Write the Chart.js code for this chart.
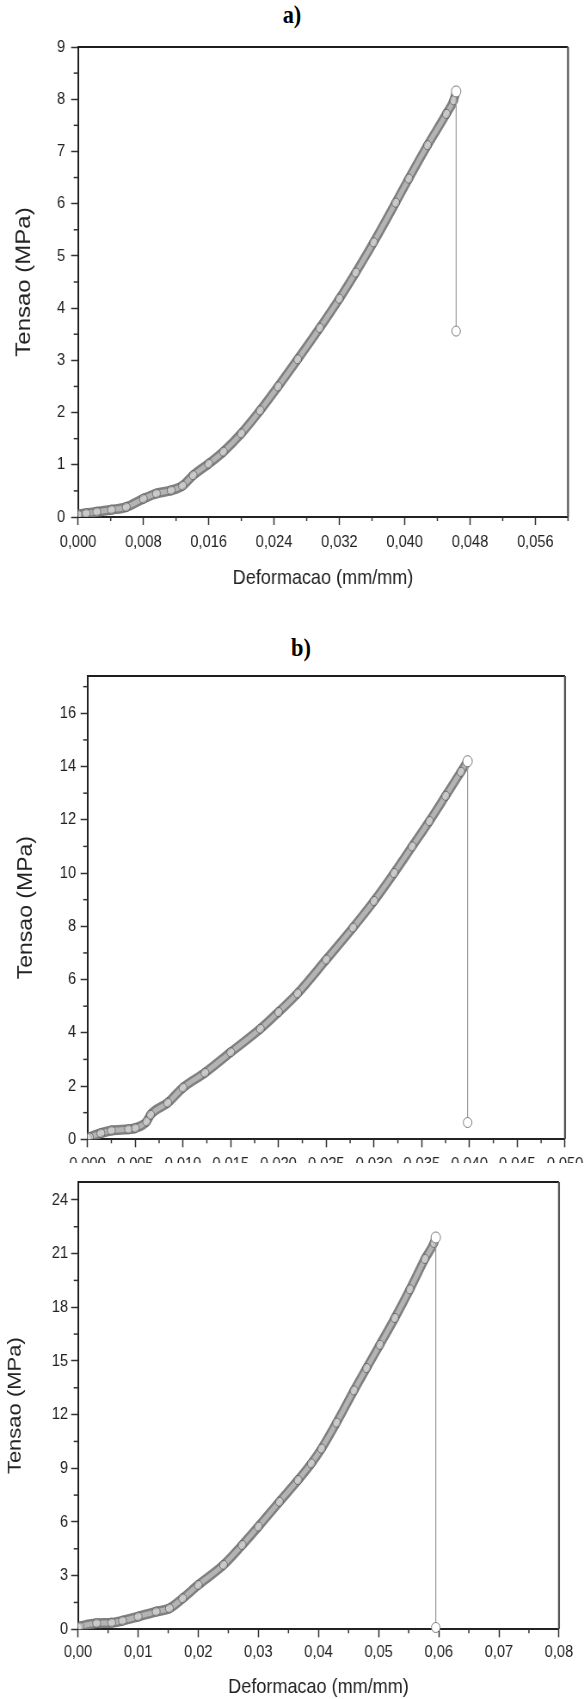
<!DOCTYPE html>
<html>
<head>
<meta charset="utf-8">
<script src="https://cdn.jsdelivr.net/npm/chart.js@4.4.1/dist/chart.umd.min.js"></script>
<style>
html,body{margin:0;padding:0;background:#fff;width:584px;height:1699px;overflow:hidden;position:relative}
.box{position:absolute;left:0;width:584px;overflow:hidden}
.ttl{position:absolute;font:bold 26px 'Liberation Serif','Times New Roman',serif;color:#000;transform:translate(-50%,-50%) scaleX(0.86);line-height:1}
canvas{display:block;transform:scaleX(0.8601);transform-origin:0 0}
</style>
</head>
<body>
<div class="ttl" style="left:292px;top:15px">a)</div>
<div class="box" style="top:0;height:600px"><canvas id="ca" width="679" height="600" style="width:679px;height:600px"></canvas></div>
<div class="ttl" style="left:301px;top:648px">b)</div>
<div class="box" style="top:620px;height:543px"><canvas id="cb" width="679" height="560" style="width:679px;height:560px"></canvas></div>
<div class="box" style="top:1163px;height:536px"><canvas id="cc" width="679" height="536" style="width:679px;height:536px"></canvas></div>
<script>
// ---------- data (last point = failure point) ----------
const A_STRAIN = [0.0000,0.0010,0.0023,0.0041,0.0059,0.0080,0.0096,0.0114,0.0128,0.0141,0.0160,0.0178,0.0200,0.0223,0.0245,0.0269,0.0296,0.0320,0.0340,0.0362,0.0389,0.0405,0.0428,0.0451,0.0460,0.0463,0.0463];
const A_STRESS = [0.05,0.07,0.10,0.14,0.19,0.35,0.45,0.51,0.60,0.80,1.02,1.25,1.60,2.04,2.50,3.02,3.62,4.18,4.68,5.26,6.02,6.48,7.12,7.72,7.98,8.15,3.56];

const B_STRAIN = [0.0000,0.0002,0.0014,0.0025,0.0043,0.0050,0.0062,0.0066,0.0084,0.0100,0.0123,0.0150,0.0181,0.0200,0.0220,0.0250,0.0278,0.0300,0.0321,0.0340,0.0358,0.0375,0.0391,0.0398,0.0398];
const B_STRESS = [0.05,0.08,0.23,0.33,0.38,0.42,0.67,0.92,1.37,1.94,2.50,3.27,4.15,4.78,5.48,6.75,7.95,8.95,10.00,11.00,11.95,12.90,13.80,14.20,0.63];

const C_STRAIN = [0.0000,0.0003,0.0031,0.0056,0.0074,0.0100,0.0130,0.0152,0.0174,0.0200,0.0242,0.0273,0.0300,0.0335,0.0366,0.0388,0.0405,0.0430,0.0459,0.0480,0.0502,0.0527,0.0552,0.0577,0.0592,0.0595,0.0595];
const C_STRESS = [0.10,0.15,0.34,0.37,0.48,0.71,0.99,1.17,1.73,2.48,3.60,4.71,5.74,7.13,8.34,9.27,10.10,11.55,13.35,14.60,15.90,17.40,19.00,20.70,21.60,21.90,0.10];

// ---------- ticks / labels ----------
const A_X_TICKS = [0,0.008,0.016,0.024,0.032,0.040,0.048,0.056];
const A_Y_TICKS = [0,1,2,3,4,5,6,7,8,9];
const B_X_TICKS = [0,0.005,0.010,0.015,0.020,0.025,0.030,0.035,0.040,0.045,0.050];
const B_Y_TICKS = [0,2,4,6,8,10,12,14,16];
const C_X_TICKS = [0,0.01,0.02,0.03,0.04,0.05,0.06,0.07,0.08];
const C_Y_TICKS = [0,3,6,9,12,15,18,21,24];
const X_TITLE = 'Deformacao (mm/mm)';
const Y_TITLE = 'Tensao (MPa)';

const SANS = "'Liberation Sans',Arial,sans-serif";
const INK = '#222';

function minorOf(major, max){
  const out=[];
  for(let i=0;i<major.length;i++){
    const step = i<major.length-1 ? major[i+1]-major[i] : major[i]-major[i-1];
    const m = major[i]+step/2;
    if(m<=max+1e-9) out.push(m);
  }
  return out;
}

const frameMinor = {
  id:'frameMinor',
  afterDraw(chart, args, o){
    const {ctx, chartArea:a} = chart;
    const xs = chart.scales.x, ys = chart.scales.y;
    ctx.save();
    ctx.strokeStyle = '#1e1e1e';
    ctx.lineWidth = 2;
    ctx.beginPath();
    ctx.moveTo(a.left, a.top); ctx.lineTo(a.right, a.top);
    ctx.stroke();
    ctx.strokeStyle = '#555';
    ctx.lineWidth = 2.3;
    ctx.beginPath();
    ctx.moveTo(a.right, a.top); ctx.lineTo(a.right, a.bottom);
    ctx.stroke();
    ctx.lineWidth = 1.5;
    ctx.strokeStyle = '#333';
    o.xMinor.forEach(v=>{const p=xs.getPixelForValue(v);ctx.beginPath();ctx.moveTo(p,a.bottom);ctx.lineTo(p,a.bottom+4);ctx.stroke();});
    o.yMinor.forEach(v=>{const p=ys.getPixelForValue(v);ctx.beginPath();ctx.moveTo(a.left,p);ctx.lineTo(a.left-5,p);ctx.stroke();});
    ctx.restore();
  }
};

function makeChart(id, g){
  const n = g.strain.length;
  const curve = [], drop = [];
  for(let i=0;i<n;i++){
    const pt = {x:g.strain[i], y:g.stress[i]};
    if(i<n-1) curve.push(pt);
    if(i>=n-2) drop.push(pt);
  }
  const xfmt = v => v.toFixed(g.xDec).replace('.',',');
  return new Chart(document.getElementById(id), {
    type:'scatter',
    data:{datasets:[
      {data:curve, showLine:true, borderColor:'#808080', borderWidth:10, pointRadius:0, cubicInterpolationMode:'monotone', order:4},
      {data:curve, showLine:true, borderColor:'#b4b4b4', borderWidth:5, pointRadius:0, cubicInterpolationMode:'monotone', order:3},
      {data:curve, showLine:false, pointRadius:4.6, pointBorderWidth:1, pointBorderColor:'rgba(85,85,85,0.7)', pointBackgroundColor:'rgba(255,255,255,0.3)', order:2},
      {data:drop, showLine:true, borderColor:'#9a9a9a', borderWidth:1.2, pointRadius:[5.5,5], pointBorderWidth:1, pointBorderColor:'#7a7a7a', pointBackgroundColor:'#fff', clip:false, order:1}
    ]},
    options:{
      responsive:false, animation:false, devicePixelRatio:1,
      layout:{padding:g.pad},
      plugins:{legend:{display:false}, tooltip:{enabled:false}, frameMinor:{xMinor:minorOf(g.xTicks,g.xMax), yMinor:minorOf(g.yTicks,g.yMax)}},
      scales:{
        x:{type:'linear', min:0, max:g.xMax,
          afterBuildTicks:s=>{s.ticks=g.xTicks.map(v=>({value:v}));},
          afterFit:s=>{s.height=g.xH; s.paddingLeft=0; s.paddingRight=0;},
          ticks:{callback:v=>xfmt(v), font:{family:SANS,size:17}, color:INK, padding:g.xPad, maxRotation:0, autoSkip:false},
          grid:{drawOnChartArea:false, drawTicks:true, tickLength:8, tickWidth:1.5, tickColor:'#333'},
          border:{display:true, color:'#222', width:2},
          title:{display:g.xTitle, text:X_TITLE, font:{family:SANS,size:21,lineHeight:1}, color:INK, padding:{top:0,bottom:g.xTitlePad}}
        },
        y:{type:'linear', min:0, max:g.yMax,
          afterBuildTicks:s=>{s.ticks=g.yTicks.map(v=>({value:v}));},
          afterFit:s=>{s.width=g.yW; s.paddingTop=0; s.paddingBottom=0;},
          ticks:{callback:v=>String(v), font:{family:SANS,size:17}, color:INK, padding:g.yPad, autoSkip:false},
          grid:{drawOnChartArea:false, drawTicks:true, tickLength:8, tickWidth:1.5, tickColor:'#333'},
          border:{display:true, color:'#222', width:2},
          title:{display:true, text:Y_TITLE, font:{family:SANS,size:g.ySize,lineHeight:1}, color:INK, padding:{top:g.yTitlePad,bottom:0}}
        }
      }
    },
    plugins:[frameMinor]
  });
}

makeChart('ca',{strain:A_STRAIN,stress:A_STRESS,xTicks:A_X_TICKS,yTicks:A_Y_TICKS,xMax:0.06,yMax:9,xDec:3,
  pad:{top:47,right:18.6,left:0,bottom:0}, yW:90.7, xH:83, xPad:6.9, yPad:7.1, xTitle:true, xTitlePad:11.5, ySize:24, yTitlePad:15.9});
makeChart('cb',{strain:B_STRAIN,stress:B_STRESS,xTicks:B_X_TICKS,yTicks:B_Y_TICKS,xMax:0.05,yMax:17.4,xDec:3,
  pad:{top:56,right:22.1,left:0,bottom:0}, yW:101.7, xH:40.7, xPad:6.6, yPad:5.3, xTitle:false, xTitlePad:0, ySize:23, yTitlePad:18.7});
makeChart('cc',{strain:C_STRAIN,stress:C_STRESS,xTicks:C_X_TICKS,yTicks:C_Y_TICKS,xMax:0.08,yMax:25,xDec:2,
  pad:{top:19,right:29.1,left:0,bottom:0}, yW:90.7, xH:69.7, xPad:4.6, yPad:3.6, xTitle:true, xTitlePad:1.5, ySize:22, yTitlePad:7});
</script>
</body>
</html>
